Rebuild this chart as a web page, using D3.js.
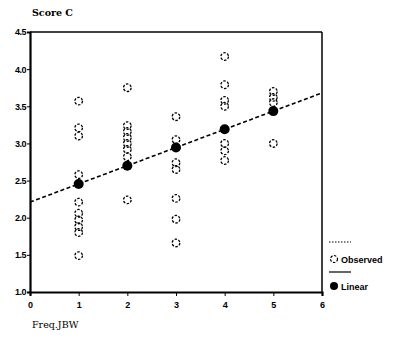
<!DOCTYPE html>
<html><head><meta charset="utf-8">
<script src="https://cdn.jsdelivr.net/npm/d3@7"></script>
<style>body{margin:0;background:#fff}svg{display:block}</style>
</head><body>
<script>
const obsX = [1,1,1,1,1,1,1,1,1,1, 2,2,2,2,2,2,2,2, 3,3,3,3,3,3,3, 4,4,4,4,4,4,4, 5,5,5,5];
const obsY = [3.57,3.21,3.10,2.58,2.21,2.06,1.97,1.88,1.80,1.49,
              3.75,3.24,3.16,3.08,3.00,2.92,2.82,2.24,
              3.36,3.05,2.74,2.65,2.26,1.98,1.66,
              4.17,3.79,3.58,3.50,3.00,2.90,2.77,
              3.70,3.62,3.55,3.00];
const linX = [1,2,3,4,5];
const linY = [2.455,2.70,2.945,3.19,3.435];
const fitX = [0,6];
const fitY = [2.21,3.68];
const xTicks = [0,1,2,3,4,5,6];
const yTicks = [1.0,1.5,2.0,2.5,3.0,3.5,4.0,4.5];

const W=406,H=345;
const svg=d3.select("body").append("svg").attr("width",W).attr("height",H);
const x=d3.scaleLinear().domain([0,6]).range([30,322]);
const y=d3.scaleLinear().domain([1,4.5]).range([292,32]);

// frame top/right
svg.append("line").attr("x1",x(0)).attr("x2",x(6)).attr("y1",y(4.5)).attr("y2",y(4.5)).attr("stroke","#000").attr("stroke-width",1.5);
svg.append("line").attr("x1",x(6)).attr("x2",x(6)).attr("y1",y(4.5)).attr("y2",y(1)).attr("stroke","#000").attr("stroke-width",1.5);

const xa=svg.append("g").attr("transform",`translate(0,${y(1)})`)
  .call(d3.axisBottom(x).tickValues(xTicks).tickFormat(d3.format("d")).tickSize(4).tickPadding(6));
const ya=svg.append("g").attr("transform",`translate(${x(0)},0)`)
  .call(d3.axisLeft(y).tickValues(yTicks).tickFormat(d3.format(".1f")).tickSize(3).tickPadding(1));
[xa,ya].forEach(g=>{
  g.select(".domain").attr("stroke-width",2.2);
  g.selectAll("text").attr("font-family","Liberation Sans, Arial").attr("font-weight","bold").attr("font-size",9).attr("fill","#000");
});
ya.selectAll("text").attr("letter-spacing","-0.5");

// fit line
svg.append("line").attr("x1",x(fitX[0])).attr("y1",y(fitY[0])).attr("x2",x(fitX[1])).attr("y2",y(fitY[1]))
  .attr("stroke","#000").attr("stroke-width",1.6).attr("stroke-dasharray","4,2.5");

// observed
svg.append("g").selectAll("circle").data(obsX.map((d,i)=>[d,obsY[i]])).join("circle")
  .attr("cx",d=>x(d[0])).attr("cy",d=>y(d[1])).attr("r",3.8)
  .attr("fill","none").attr("stroke","#000").attr("stroke-width",1.3).attr("stroke-dasharray","2.5,1.5");

// linear
svg.append("g").selectAll("circle").data(linX.map((d,i)=>[d,linY[i]])).join("circle")
  .attr("cx",d=>x(d[0])).attr("cy",d=>y(d[1])).attr("r",5).attr("fill","#000");

// titles
svg.append("text").attr("x",32).attr("y",16).text("Score C")
  .attr("font-family","DejaVu Serif, serif").attr("font-weight","bold").attr("font-size",9.5);
svg.append("text").attr("x",32).attr("y",328).text("Freq.JBW")
  .attr("font-family","DejaVu Serif, serif").attr("font-size",9.5);

// legend
svg.append("line").attr("x1",329).attr("x2",351).attr("y1",242).attr("y2",242).attr("stroke","#000").attr("stroke-dasharray","1.5,1.5").attr("stroke-width",1);
svg.append("circle").attr("cx",334).attr("cy",259).attr("r",3.5).attr("fill","none").attr("stroke","#000").attr("stroke-width",1.2).attr("stroke-dasharray","2.5,1.5");
svg.append("text").attr("x",341).attr("y",262.5).text("Observed").attr("font-family","Liberation Sans, Arial").attr("font-weight","bold").attr("font-size",9);
svg.append("line").attr("x1",329).attr("x2",351).attr("y1",272).attr("y2",272).attr("stroke","#000").attr("stroke-width",1.2);
svg.append("circle").attr("cx",334).attr("cy",286).attr("r",4).attr("fill","#000");
svg.append("text").attr("x",341).attr("y",289.5).text("Linear").attr("font-family","Liberation Sans, Arial").attr("font-weight","bold").attr("font-size",9);
</script>
</body></html>
